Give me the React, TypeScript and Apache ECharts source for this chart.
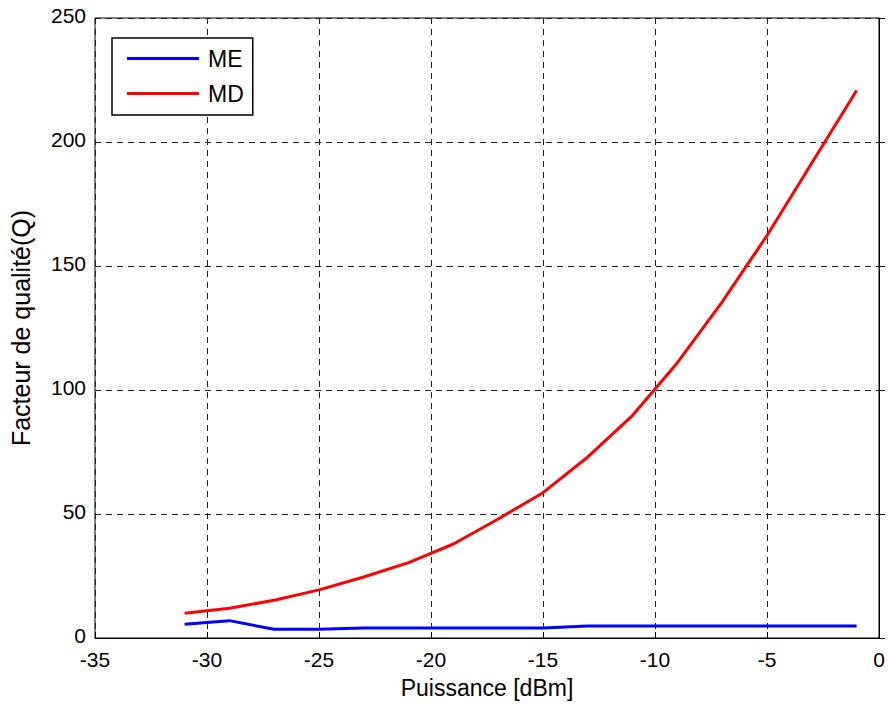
import React, { useEffect, useRef } from "react";
import * as echarts from "echarts";

const powerDbm = [-31, -29, -27, -25, -23, -21, -19, -17, -15, -13, -11, -9, -7, -5, -3, -1];
const qME = [5.5, 7, 3.5, 3.5, 4, 4, 4, 4, 4, 4.8, 4.8, 4.8, 4.8, 4.8, 4.8, 4.8];
const qMD = [10, 12, 15.2, 19.4, 24.6, 30.4, 37.9, 48, 58.6, 73, 89.8, 111, 135.5, 162.3, 191.5, 220.8];
const xTicks = { min: -35, max: 0, interval: 5 };
const yTicks = { min: 0, max: 250, interval: 50 };

export default function App() {
  const ref = useRef<HTMLDivElement>(null);
  useEffect(() => {
    if (!ref.current) return;
    const chart = echarts.init(ref.current, undefined, { renderer: "svg" });
    const font = "Liberation Sans, Arial, Helvetica, sans-serif";
    const split = { show: true, lineStyle: { color: "#222", type: [6, 5] as any, width: 1 } };
    chart.setOption({
      animation: false,
      backgroundColor: "#fff",
      textStyle: { fontFamily: font },
      grid: {
        left: 94, right: 9, top: 18, bottom: 65,
        show: true, borderColor: "#000", borderWidth: 1,
      },
      legend: {
        orient: "vertical",
        left: 112,
        top: 38,
        padding: [9, 9, 10, 15],
        itemGap: 12,
        itemWidth: 72,
        itemHeight: 3,
        icon: "rect",
        borderColor: "#000",
        borderWidth: 1.5,
        backgroundColor: "#fff",
        textStyle: { fontSize: 23, lineHeight: 23, color: "#000", fontFamily: font, padding: [0, 0, 0, 4] },
        data: ["ME", "MD"],
      },
      xAxis: {
        type: "value",
        ...xTicks,
        name: "Puissance [dBm]",
        nameLocation: "middle",
        nameGap: 38,
        nameTextStyle: { fontSize: 23, color: "#000", fontFamily: font },
        axisLine: { show: true, onZero: false, lineStyle: { color: "#000" } },
        axisTick: { show: true, inside: true, length: 6, lineStyle: { color: "#000" } },
        axisLabel: { fontSize: 21, color: "#000", margin: 11, fontFamily: font },
        splitLine: split,
      },
      yAxis: {
        type: "value",
        ...yTicks,
        name: "Facteur de qualité(Q)",
        nameLocation: "middle",
        nameGap: 62,
        nameTextStyle: { fontSize: 25, color: "#000", fontFamily: font },
        axisLine: { show: true, lineStyle: { color: "#000" } },
        axisTick: { show: true, inside: true, length: 6, lineStyle: { color: "#000" } },
        axisLabel: { fontSize: 21, color: "#000", margin: 9, fontFamily: font, verticalAlign: "bottom", lineHeight: 21, padding: [0, 0, -8, 0] },
        splitLine: split,
      },
      series: [
        {
          name: "ME",
          type: "line",
          data: powerDbm.map((x, i) => [x, qME[i]]),
          showSymbol: false,
          symbol: "none",
          lineStyle: { color: "#0000ff", width: 3 },
          itemStyle: { color: "#0000ff" },
        },
        {
          name: "MD",
          type: "line",
          data: powerDbm.map((x, i) => [x, qMD[i]]),
          showSymbol: false,
          symbol: "none",
          lineStyle: { color: "#ff0000", width: 3 },
          itemStyle: { color: "#ff0000" },
        },
      ],
    });
    return () => chart.dispose();
  }, []);
  return <div ref={ref} style={{ width: 888, height: 704, position: "absolute", left: 0, top: 0 }} />;
}
